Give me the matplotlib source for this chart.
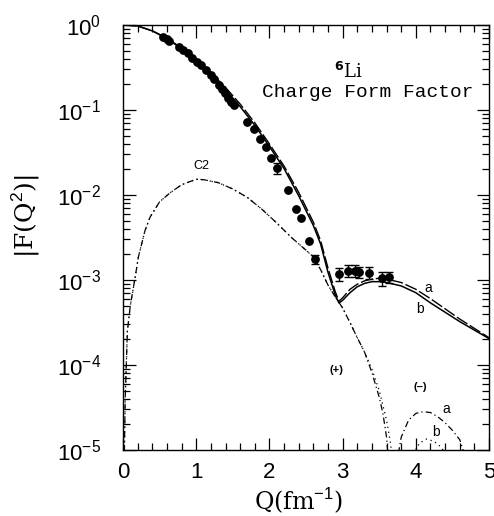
import numpy as np
import matplotlib
matplotlib.use("Agg")
import matplotlib.pyplot as plt
from matplotlib.ticker import LogLocator, MultipleLocator, NullFormatter

plt.rcParams['font.family'] = ['Liberation Sans', 'DejaVu Sans']
plt.rcParams['mathtext.fontset'] = 'custom'
plt.rcParams['mathtext.rm'] = 'Liberation Sans'

# measured charge form factor |F(Q^2)|
q_data = [0.551, 0.597, 0.633, 0.765, 0.816, 0.892, 0.947, 1.007, 1.066, 1.134,
          1.198, 1.243, 1.316, 1.352, 1.393, 1.430, 1.475, 1.520, 1.698, 1.794,
          1.872, 1.954, 2.026, 2.100, 2.254, 2.363, 2.436, 2.537, 2.619, 2.951,
          3.078, 3.169, 3.228, 3.365, 3.534, 3.630]
f_data = [0.728, 0.684, 0.653, 0.547, 0.508, 0.465, 0.412, 0.370, 0.338, 0.296,
          0.258, 0.230, 0.197, 0.175, 0.157, 0.140, 0.125, 0.115, 0.0728, 0.0593,
          0.0456, 0.0364, 0.0270, 0.0206, 0.0115, 0.00684, 0.00536, 0.00285, 0.00175, 1.18e-3,
          1.29e-3, 1.29e-3, 1.23e-3, 1.22e-3, 1.05e-3, 1.09e-3]
rel_err = [0, 0, 0, 0, 0, 0, 0, 0, 0, 0,
           0, 0, 0, 0, 0, 0, 0, 0, 0, 0,
           0, 0, 0, 0.15, 0, 0, 0, 0, 0.12, 0.17,
           0.16, 0.15, 0.15, 0.17, 0.19, 0.15]

# total form factor, models a (dashed) and b (solid): log10 |F|
q_tot = [0, 0.2, 0.4, 0.6, 0.8, 1.0, 1.2, 1.4, 1.6, 1.8, 2.0, 2.2, 2.4, 2.6, 2.7, 2.8,
         2.9, 2.95, 3.0, 3.1, 3.2, 3.3, 3.4, 3.5, 3.6, 3.8, 4.0, 4.2, 4.4, 4.6, 4.8, 5.0]
logf_tot_b = [0, -0.012, -0.07, -0.16, -0.28, -0.42, -0.58, -0.76, -0.96, -1.18, -1.43,
              -1.69, -2.01, -2.36, -2.58, -2.91, -3.18, -3.27, -3.24, -3.15, -3.08, -3.04,
              -3.02, -3.02, -3.03, -3.07, -3.15, -3.27, -3.38, -3.49, -3.59, -3.69]
logf_tot_a = [0, -0.012, -0.068, -0.155, -0.27, -0.405, -0.56, -0.735, -0.93, -1.15, -1.40,
              -1.66, -1.97, -2.32, -2.54, -2.86, -3.14, -3.25, -3.21, -3.11, -3.05, -3.01,
              -2.99, -2.98, -2.99, -3.03, -3.11, -3.22, -3.34, -3.46, -3.57, -3.68]

# C2 contribution, models a (dash-dot) and b (dotted)
q_c2 = [0.01, 0.03, 0.06, 0.1, 0.16, 0.21, 0.3, 0.37, 0.5, 0.65, 0.8, 1.0, 1.1, 1.3, 1.5,
        1.7, 1.9, 2.1, 2.3, 2.5, 2.6, 2.7, 2.8, 2.9, 3.0, 3.1, 3.2, 3.3]
logf_c2 = [-5.5, -4.4, -3.6, -3.3, -3.0, -2.73, -2.42, -2.26, -2.08, -1.97, -1.88, -1.815,
           -1.82, -1.855, -1.93, -2.03, -2.17, -2.33, -2.50, -2.65, -2.73, -2.88, -3.06,
           -3.2, -3.33, -3.50, -3.68, -3.85]
q_c2a_tail = [3.4, 3.5, 3.55, 3.6, 3.64]
logf_c2a_tail = [-4.09, -4.38, -4.57, -4.85, -5.3]
q_c2b_tail = [3.4, 3.5, 3.6, 3.65, 3.71]
logf_c2b_tail = [-4.05, -4.3, -4.65, -4.9, -5.3]
q_c2a_lobe = [3.73, 3.8, 3.9, 4.0, 4.1, 4.2, 4.3, 4.4, 4.5, 4.6, 4.68]
logf_c2a_lobe = [-5.2, -4.85, -4.65, -4.57, -4.55, -4.56, -4.61, -4.68, -4.77, -4.88, -5.1]
q_c2b_lobe = [3.93, 4.05, 4.15, 4.25, 4.35, 4.44]
logf_c2b_lobe = [-5.1, -4.92, -4.87, -4.9, -4.97, -5.1]

fig = plt.figure(figsize=(4.94, 5.16), dpi=100)
ax = fig.add_axes([0.249, 0.128, 0.741, 0.8236])


def pw(v):
    return 10.0 ** np.array(v)


ax.plot(q_tot, pw(logf_tot_b), '-', color='black', lw=1.1)
ax.plot(q_tot, pw(logf_tot_a), color='black', lw=1.0, dashes=(9, 2))

ax.plot(q_c2 + q_c2a_tail, pw(logf_c2 + logf_c2a_tail), color='black', lw=0.9,
        dashes=(5, 2.5, 1, 2.5))
ax.plot(q_c2 + q_c2b_tail, pw(logf_c2 + logf_c2b_tail), color='black', lw=0.9,
        dashes=(1, 3))
ax.plot(q_c2a_lobe, pw(logf_c2a_lobe), color='black', lw=0.9, dashes=(5, 2.5, 1, 2.5))
ax.plot(q_c2b_lobe, pw(logf_c2b_lobe), color='black', lw=0.9, dashes=(1, 3))

q_arr = np.array(q_data)
f_arr = np.array(f_data)
e_arr = np.array(rel_err)
ax.plot(q_arr, f_arr, 'o', color='black', ms=5.3)
has_err = e_arr > 0
ax.errorbar(q_arr[has_err], f_arr[has_err], yerr=f_arr[has_err] * e_arr[has_err],
            fmt='none', ecolor='black', elinewidth=1.0, capsize=3, capthick=1.0)

ax.set_yscale('log')
ax.set_xlim(0, 5)
ax.set_ylim(1e-5, 1)

ax.xaxis.set_major_locator(MultipleLocator(1))
ax.xaxis.set_minor_locator(MultipleLocator(0.2))
ax.yaxis.set_major_locator(LogLocator(base=10, numticks=10))
ax.yaxis.set_minor_locator(LogLocator(base=10, subs=np.arange(2, 10), numticks=10))
ax.yaxis.set_minor_formatter(NullFormatter())

ax.tick_params(which='both', direction='in', top=True, right=True, width=0.9)
ax.tick_params(which='major', length=9)
ax.tick_params(which='minor', length=5)
ax.tick_params(axis='x', which='major', labelsize=16, pad=9)
ax.tick_params(axis='y', which='major', labelsize=16, pad=16)
for s in ax.spines.values():
    s.set_linewidth(1.0)

ax.set_xlabel(r'Q(fm$^{-1}$)', family='DejaVu Serif', fontsize=17, labelpad=0)
ax.xaxis.set_label_coords(0.48, -0.085)
ax.set_ylabel(r'|F(Q$^{2}$)|', family='DejaVu Serif', fontsize=18)
ax.yaxis.set_label_coords(-0.222, 0.55)

ax.text(3.08, 10 ** -0.55, r'$^{\mathbf{6}}$Li', family='DejaVu Serif', fontsize=13,
        ha='center', va='center')
ax.text(3.34, 10 ** -0.79, 'Charge Form Factor', family='Liberation Mono', fontsize=14,
        ha='center', va='center')
ax.text(1.07, 10 ** -1.665, 'C2', fontsize=9, ha='center', va='center')
ax.text(4.17, 10 ** -3.1, 'a', fontsize=10, ha='center', va='center')
ax.text(4.06, 10 ** -3.34, 'b', fontsize=10, ha='center', va='center')
ax.text(2.91, 10 ** -4.06, '(+)', fontsize=8, fontweight='bold', ha='center', va='center')
ax.text(4.06, 10 ** -4.26, '(\u2013)', fontsize=8, fontweight='bold', ha='center', va='center')
ax.text(4.42, 10 ** -4.52, 'a', fontsize=10, ha='center', va='center')
ax.text(4.28, 10 ** -4.79, 'b', fontsize=10, ha='center', va='center')

fig.savefig('out.png', dpi=100)
